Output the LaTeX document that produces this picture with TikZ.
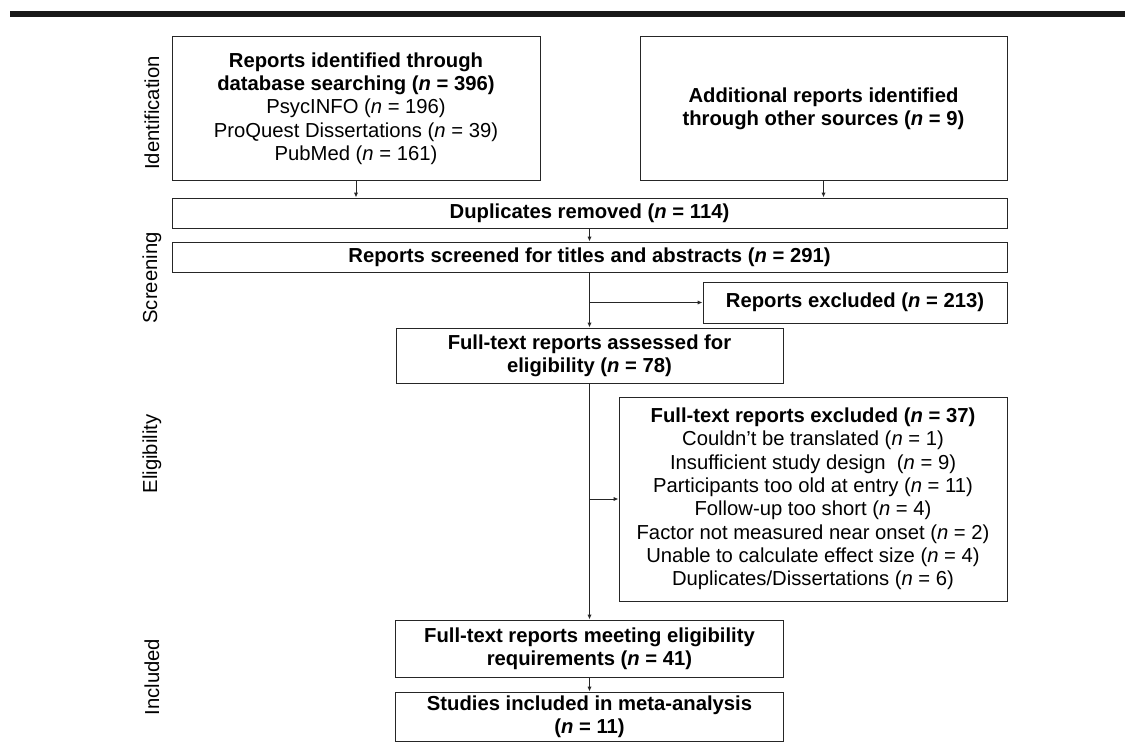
\documentclass[tikz,border=0pt]{standalone}
\usepackage{fontspec}
\setmainfont{Liberation Sans}
\usetikzlibrary{arrows.meta, positioning, calc}
\newcommand{\nv}{\textit{n}}

\begin{document}
\begin{tikzpicture}[
            box/.style={draw=black!85, line width=0.7pt, align=center, inner sep=2pt,
                font=\fontsize{14.4}{16.6}\selectfont},
            phase/.style={rotate=90, font=\fontsize{14.4}{16.6}\selectfont},
            arr/.style={draw=black!85, line width=0.7pt, -{Latex[length=3.5pt, width=3pt]}}]
            \useasboundingbox (0,0) rectangle (28.125,18.875);
            \fill[black!90] (0.25,18.45) rectangle (28.125,18.6);
            % phases
            \node[phase] (ph1) at (3.8,16.05) {Identification};
            \node[phase] (ph2) at (3.8,11.925) {Screening};
            \node[phase] (ph3) at (3.8,7.525) {Eligibility};
            \node[phase] (ph4) at (3.8,1.95) {Included};
            % boxes
            \node[box, minimum width=9.2cm, minimum height=3.575cm] (db) at (8.9,16.1625)
                {\textbf{Reports identified through}\\\textbf{database searching (\nv{} = 396)}\\
                 PsycINFO (\nv{} = 196)\\ProQuest Dissertations (\nv{} = 39)\\PubMed (\nv{} = 161)};
            \node[box, minimum width=9.175cm, minimum height=3.575cm] (oth) at (20.5875,16.1625)
                {\textbf{Additional reports identified}\\\textbf{through other sources (\nv{} = 9)}};
            \node[box, minimum width=20.875cm, minimum height=0.75cm] (dup) at (14.7375,13.55)
                {\textbf{Duplicates removed (\nv{} = 114)}};
            \node[box, minimum width=20.875cm, minimum height=0.75cm] (scr) at (14.7375,12.45)
                {\textbf{Reports screened for titles and abstracts (\nv{} = 291)}};
            \node[box, minimum width=7.6cm, minimum height=1.025cm] (exc1) at (21.375,11.3125)
                {\textbf{Reports excluded (\nv{} = 213)}};
            \node[box, minimum width=9.675cm, minimum height=1.375cm] (ft) at (14.7375,9.9875)
                {\textbf{Full-text reports assessed for}\\\textbf{eligibility (\nv{} = 78)}};
            \node[box, minimum width=9.7cm, minimum height=5.1cm] (exc2) at (20.325,6.4)
                {\textbf{Full-text reports excluded (\nv{} = 37)}\\
                 Couldn’t be translated (\nv{} = 1)\\
                 Insufficient study design~~(\nv{} = 9)\\
                 Participants too old at entry (\nv{} = 11)\\
                 Follow-up too short (\nv{} = 4)\\
                 Factor not measured near onset (\nv{} = 2)\\
                 Unable to calculate effect size (\nv{} = 4)\\
                 Duplicates/Dissertations (\nv{} = 6)};
            \node[box, minimum width=9.7cm, minimum height=1.425cm] (elig) at (14.7375,2.6625)
                {\textbf{Full-text reports meeting eligibility}\\\textbf{requirements (\nv{} = 41)}};
            \node[box, minimum width=9.7cm, minimum height=1.225cm] (incl) at (14.7375,0.9625)
                {\textbf{Studies included in meta-analysis}\\\textbf{(\nv{} = 11)}};
            % connectors
            \draw[arr] (db.south) -- (db.south |- dup.north);
            \draw[arr] (oth.south) -- (oth.south |- dup.north);
            \draw[arr] (dup.south) -- (scr.north);
            \draw[arr] (scr.south) -- (ft.north);
            \draw[arr] (scr.south |- exc1.west) -- (exc1.west);
            \draw[arr] (ft.south) -- (elig.north);
            \draw[arr] (ft.south |- exc2.west) -- (exc2.west);
            \draw[arr] (elig.south) -- (incl.north);
        \end{tikzpicture}
\end{document}
